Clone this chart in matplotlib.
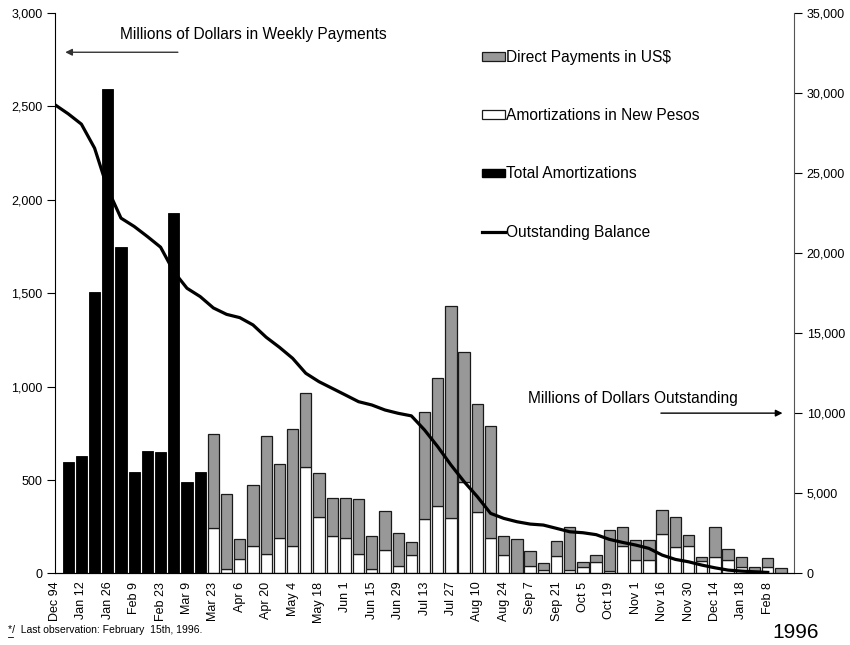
import numpy as np
import matplotlib
matplotlib.use('Agg')
import matplotlib.pyplot as plt
from matplotlib.patches import Patch
from matplotlib.lines import Line2D

plt.rcParams['font.family'] = ['Liberation Sans', 'DejaVu Sans']

# Weekly tick labels (one label every two weeks)
week_labels = ['Dec 94', 'Jan 12', 'Jan 26', 'Feb 9', 'Feb 23', 'Mar 9', 'Mar 23',
               'Apr 6', 'Apr 20', 'May 4', 'May 18', 'Jun 1', 'Jun 15', 'Jun 29',
               'Jul 13', 'Jul 27', 'Aug 10', 'Aug 24', 'Sep 7', 'Sep 21', 'Oct 5',
               'Oct 19', 'Nov 1', 'Nov 16', 'Nov 30', 'Dec 14', 'Jan 18', 'Feb 8']

# Total amortizations, weeks 1-11 (millions of US$)
total_amort = [598, 628, 1509, 2593, 1750, 544, 657, 650, 1932, 491, 544]

# Weeks 12-55: amortizations in new pesos and direct payments in US$
pesos_amort = [244, 21, 75, 148, 103, 187, 148, 571, 303, 200, 191, 105, 23, 127,
               39, 98, 289, 361, 296, 491, 330, 187, 98, 3, 41, 20, 93, 16, 32, 59,
               15, 148, 71, 71, 211, 143, 148, 68, 89, 71, 36, 14, 36, 0]
direct_usd = [502, 404, 107, 325, 632, 398, 627, 393, 233, 203, 212, 291, 175, 208,
              175, 72, 577, 687, 1138, 696, 575, 604, 104, 181, 78, 37, 82, 234, 30, 39,
              219, 102, 106, 106, 128, 157, 57, 21, 159, 61, 53, 22, 48, 27]

# Outstanding balance, weeks 0-54 (millions of US$)
balance = [29270, 28706, 28060, 26560, 24000, 22190, 21670, 21040, 20375, 18850,
           17810, 17290, 16580, 16180, 15975, 15520, 14750, 14125, 13437, 12500,
           11975, 11560, 11145, 10725, 10520, 10206, 10000, 9840, 8956, 7912,
           6770, 5725, 4790, 3750, 3437, 3227, 3081, 3020, 2812, 2600,
           2540, 2420, 2125, 1937, 1770, 1562, 1144, 875, 725, 520,
           350, 206, 144, 100, 62]

GRAY = '#989898'
EDGE = '#1a1a1a'


def draw_chart():
    fig = plt.figure(figsize=(8.5, 6.45), dpi=100)
    ax = fig.add_axes([0.0647, 0.111, 0.8696, 0.8688])

    n_black = len(total_amort)
    x_black = np.arange(1, n_black + 1)
    x_split = np.arange(n_black + 1, n_black + 1 + len(pesos_amort))
    width = 0.86

    ax.bar(x_black, total_amort, width, color='black', edgecolor='black', linewidth=0.6)
    ax.bar(x_split, pesos_amort, width, color='white', edgecolor=EDGE, linewidth=0.9)
    ax.bar(x_split, direct_usd, width, bottom=pesos_amort, color=GRAY,
           edgecolor=EDGE, linewidth=0.9)

    ax.set_xlim(0, 56)
    ax.set_ylim(0, 3000)
    ax.set_yticks(np.arange(0, 3001, 500))
    ax.set_yticklabels([f'{v:,}' for v in range(0, 3001, 500)], fontsize=9)
    ax.set_xticks(np.arange(0, 2 * len(week_labels), 2))
    ax.set_xticklabels(week_labels, rotation=90, fontsize=9)
    ax.tick_params(axis='x', length=0, pad=6)
    ax.tick_params(axis='y', direction='out', length=6, width=0.8, pad=3)
    ax.spines['top'].set_visible(False)
    ax.spines['right'].set_visible(False)
    ax.spines['bottom'].set_linewidth(0.8)
    ax.spines['left'].set_linewidth(0.8)

    # outstanding balance on the right axis
    ax2 = ax.twinx()
    ax2.plot(np.arange(len(balance)), balance, color='black', linewidth=2.3,
             solid_joinstyle='round')
    ax2.set_ylim(0, 35000)
    ax2.set_yticks(np.arange(0, 35001, 5000))
    ax2.set_yticklabels([f'{v:,}' for v in range(0, 35001, 5000)], fontsize=9)
    ax2.tick_params(axis='y', direction='out', length=6, width=0.8, pad=3)
    ax2.spines['top'].set_visible(False)
    ax2.spines['left'].set_visible(False)
    ax2.spines['right'].set_color('#555555')
    ax2.spines['right'].set_linewidth(0.8)

    # axis captions with arrows
    ax.text(0.2685, 0.961, 'Millions of Dollars in Weekly Payments', transform=ax.transAxes,
            ha='center', va='center', fontsize=11.2)
    ax.annotate('', xy=(0.0101, 0.930), xytext=(0.170, 0.930), xycoords='axes fraction',
                arrowprops=dict(arrowstyle='-|>', color='#333333', lw=1.0,
                                mutation_scale=10))
    ax.text(0.782, 0.313, 'Millions of Dollars Outstanding', transform=ax.transAxes,
            ha='center', va='center', fontsize=11.2)
    ax.annotate('', xy=(0.988, 0.286), xytext=(0.816, 0.286), xycoords='axes fraction',
                arrowprops=dict(arrowstyle='-|>', color='black', lw=1.0,
                                mutation_scale=10))

    handles = [Patch(facecolor=GRAY, edgecolor=EDGE, linewidth=0.9),
               Patch(facecolor='white', edgecolor=EDGE, linewidth=0.9),
               Patch(facecolor='black', edgecolor='black'),
               Line2D([0], [0], color='black', linewidth=2.3)]
    labels = ['Direct Payments in US$', 'Amortizations in New Pesos',
              'Total Amortizations', 'Outstanding Balance']
    fig.legend(handles, labels, loc='upper left', bbox_to_anchor=(482 / 850, 1 - 50 / 645),
               frameon=False, fontsize=11.2, labelspacing=2.78, handlelength=1.45,
               handleheight=0.5, handletextpad=0.12, borderpad=0, borderaxespad=0)

    fig.text(796 / 850, 1 - 632 / 645, '1996', ha='center', va='center', fontsize=15)
    fig.text(8 / 850, 1 - 630 / 645, '*/  Last observation: February  15th, 1996.',
             ha='left', va='center', fontsize=7.5)
    fig.lines.append(Line2D([8 / 850, 13 / 850], [1 - 637 / 645, 1 - 637 / 645],
                            transform=fig.transFigure, color='black', linewidth=0.6))

    fig.savefig('out.png', dpi=100)


if __name__ == '__main__':
    draw_chart()
